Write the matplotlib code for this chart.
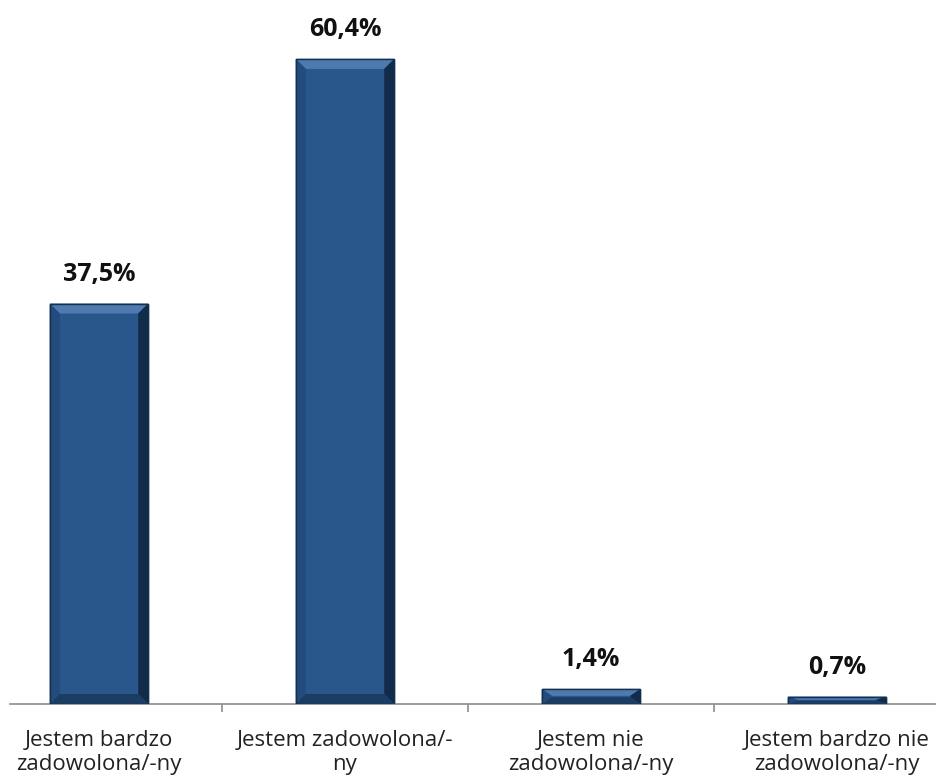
import matplotlib
matplotlib.use("Agg")
import matplotlib.pyplot as plt
from matplotlib.patches import Polygon

categories = ["Jestem bardzo\nzadowolona/-ny", "Jestem zadowolona/-\nny",
              "Jestem nie\nzadowolona/-ny", "Jestem bardzo nie\nzadowolona/-ny"]
values = [37.5, 60.4, 1.4, 0.7]
value_labels = ["37,5%", "60,4%", "1,4%", "0,7%"]

plt.rcParams['font.family'] = ['Open Sans', 'DejaVu Sans']

W, H = 937, 783
fig = plt.figure(figsize=(W / 100, H / 100), dpi=100)
ax = fig.add_axes([10 / W, 79 / H, 927 / W, 704 / H])

x = list(range(len(values)))
bars = ax.bar(x, values, width=0.4, color="#29568B", edgecolor="#13304F", linewidth=1.0, zorder=2)

ax.set_xlim(-89 / 246, 838 / 246)
ax.set_ylim(0, 704 / 10.68)

# bevel effect
px_x = 246.0  # pixels per x unit
px_y = 10.68  # pixels per y unit
for b in bars:
    x0, w, h = b.get_x(), b.get_width(), b.get_height()
    bev = 10
    bx = bev / px_x
    by = min(bev / px_y, h / 2.2)
    x1 = x0 + w
    # top highlight
    ax.add_patch(Polygon([(x0, h), (x1, h), (x1 - bx, h - by), (x0 + bx, h - by)],
                         closed=True, facecolor="#4F7AB0", edgecolor="none", zorder=3))
    # left side
    ax.add_patch(Polygon([(x0, h), (x0 + bx, h - by), (x0 + bx, by), (x0, 0)],
                         closed=True, facecolor="#234C7D", edgecolor="none", zorder=3))
    # right side dark
    ax.add_patch(Polygon([(x1, h), (x1 - bx, h - by), (x1 - bx, by), (x1, 0)],
                         closed=True, facecolor="#132B4A", edgecolor="none", zorder=3))
    # bottom dark
    ax.add_patch(Polygon([(x0, 0), (x1, 0), (x1 - bx, by), (x0 + bx, by)],
                         closed=True, facecolor="#1B3C63", edgecolor="none", zorder=3))
    ax.add_patch(Polygon([(x0, 0), (x1, 0), (x1, h), (x0, h)], closed=True,
                         facecolor="none", edgecolor="#13304F", linewidth=1.0, zorder=4))

for xi, v, lab in zip(x, values, value_labels):
    ax.annotate(lab, (xi, v), xytext=(0, 12), textcoords="offset points",
                ha="center", va="bottom", fontsize=18, fontweight="bold", color="#111111")

for s in ["top", "right", "left"]:
    ax.spines[s].set_visible(False)
ax.spines["bottom"].set_color("#8C8C8C")
ax.spines["bottom"].set_linewidth(1.2)

ax.set_yticks([])
ax.set_xticks(x)
ax.set_xticklabels(categories, fontsize=16, color="#222222", linespacing=1.15)
ax.tick_params(axis="x", which="major", length=0, pad=19)
ax.set_xticks([0.5, 1.5, 2.5], minor=True)
ax.tick_params(axis="x", which="minor", length=6, color="#8C8C8C", width=1.2)

fig.savefig("out.png", dpi=100, facecolor="white")
